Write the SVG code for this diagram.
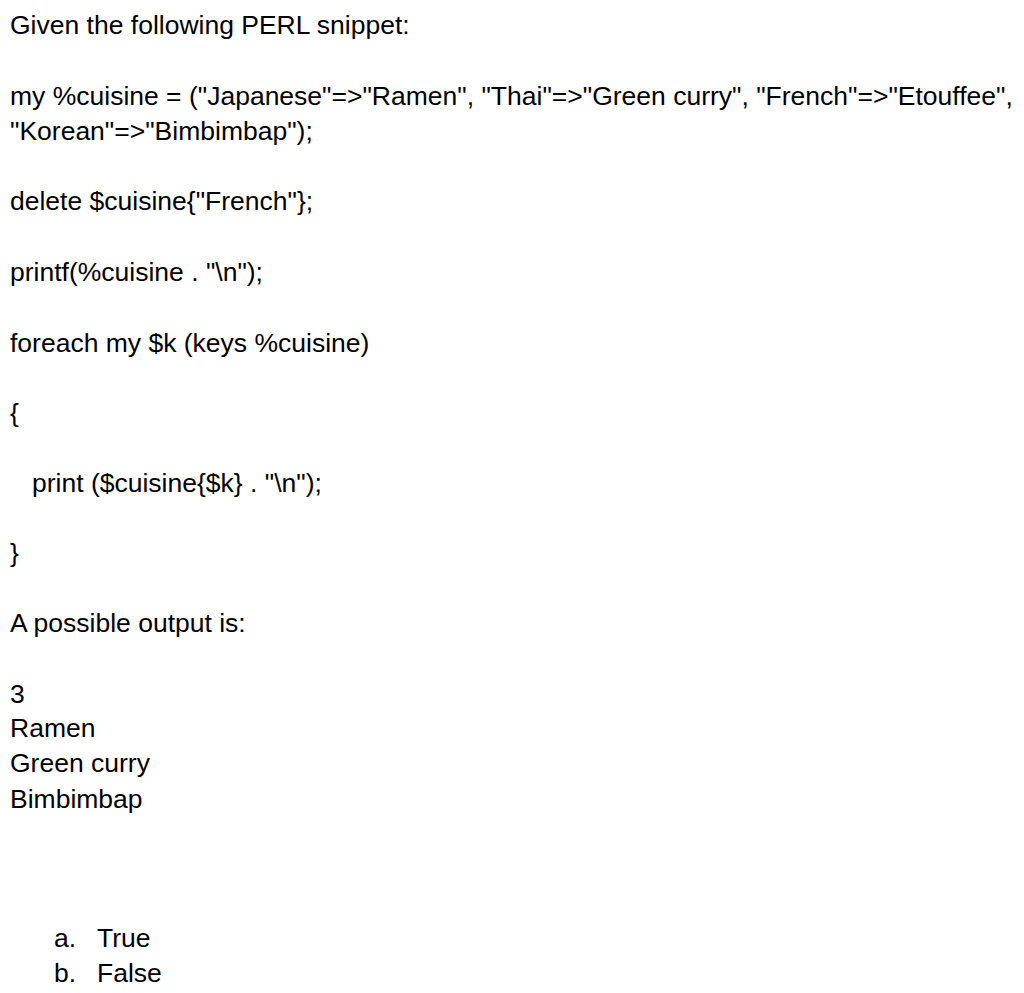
<svg xmlns="http://www.w3.org/2000/svg" width="1024" height="993" viewBox="0 0 1024 993">
<style>text{font-family:"Liberation Sans",Arial,sans-serif;font-size:26.5px;fill:#000}</style>
<rect width="1024" height="993" fill="#fff"/>
<g id="text">
<text x="10" y="34">Given the following PERL snippet:</text>
<text x="10" y="105">my %cuisine = ("Japanese"=&gt;"Ramen", "Thai"=&gt;"Green curry", "French"=&gt;"Etouffee",</text>
<text x="10" y="140">"Korean"=&gt;"Bimbimbap");</text>
<text x="10" y="210">delete $cuisine{"French"};</text>
<text x="10" y="281">printf(%cuisine . "\n");</text>
<text x="10" y="352">foreach my $k (keys %cuisine)</text>
<text x="10" y="422">{</text>
<text x="32" y="492">print ($cuisine{$k} . "\n");</text>
<text x="10" y="562">}</text>
<text x="10" y="632">A possible output is:</text>
<text x="10" y="703">3</text>
<text x="10" y="737">Ramen</text>
<text x="10" y="772">Green curry</text>
<text x="10" y="808">Bimbimbap</text>
<text x="54" y="947">a.</text><text x="97" y="947">True</text>
<text x="54" y="982">b.</text><text x="97" y="982">False</text>
</g>
</svg>
